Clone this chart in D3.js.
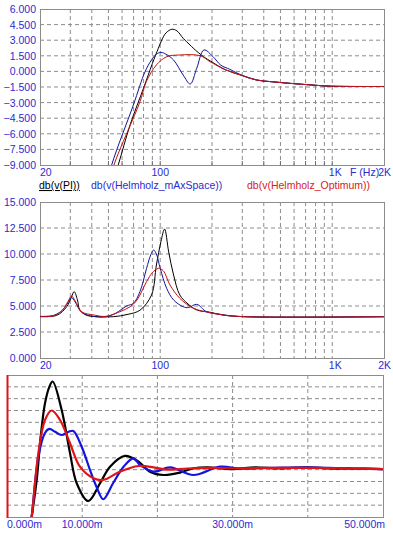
<!DOCTYPE html>
<html>
<head>
<meta charset="utf-8">
<script src="https://cdn.jsdelivr.net/npm/d3@7"></script>
<style>
  body { margin: 0; background: #fff; }
  svg { display: block; font-family: "Liberation Sans", Arial, sans-serif; }
  .grid line { stroke: #8c8c8c; stroke-dasharray: 4,3; }
  .frame { fill: none; stroke: #8c8c8c; }
  .tick-label { fill: #2b2bd0; font-size: 10.5px; }
</style>
</head>
<body>
<div id="chart"></div>
<script>
// ---- data: top panel, gain in dB vs frequency ----
const magPiF = [50, 57, 66.8, 79.9, 90, 97.5, 102, 108, 116.8, 125, 136, 149, 156, 178.6, 200, 240, 300, 364, 450, 570, 750, 975, 2000];
const magPiV = [-12, -9, -5.15, -1.63, 0.75, 2.22, 3.0, 3.7, 4.05, 3.9, 3.18, 2.54, 2.22, 1.41, 0.9, 0.15, -0.4, -0.83, -1.0, -1.15, -1.3, -1.42, -1.45];
const magMaxF = [47, 52.2, 69.8, 81.6, 89, 95, 101, 108, 119.5, 136, 149.5, 163, 179.6, 203, 225, 254, 300, 364, 450, 570, 750, 975, 2000];
const magMaxV = [-12, -9, -3.23, -0.03, 1.1, 1.65, 1.83, 1.65, 1.1, -0.35, -1.21, 0.3, 2.06, 1.41, 0.6, 0.2, -0.4, -0.83, -1.0, -1.15, -1.3, -1.42, -1.45];
const magOptF = [48, 53.8, 76.3, 83, 95, 109, 130, 171, 195, 240, 300, 364, 450, 570, 750, 975, 2000];
const magOptV = [-12, -9, -2.91, -0.99, 0.62, 1.41, 1.58, 1.51, 0.93, 0.15, -0.4, -0.83, -1.0, -1.15, -1.3, -1.42, -1.45];

// ---- data: middle panel ----
const impPiF = [20, 25, 28.6, 30.5, 31.6, 33, 34.1, 37.4, 46.5, 53.4, 65, 76.3, 89, 95, 101, 106, 112, 119.6, 130, 145, 163, 195, 232, 300, 2000];
const impPiV = [4.0, 4.1, 4.93, 5.9, 6.38, 5.6, 4.62, 4.1, 3.97, 3.97, 4.2, 4.6, 6.06, 8.94, 11.2, 12.4, 10.2, 7.98, 6.06, 5.2, 4.62, 4.4, 4.13, 3.98, 3.97];
const impMaxF = [20, 24, 27, 29, 30.5, 32, 34.9, 41, 48, 55, 63.8, 69.9, 76.3, 83.3, 88, 91.5, 95, 100, 109, 119.6, 136, 146, 163, 186, 223, 300, 2000];
const impMaxV = [4.0, 4.1, 4.6, 5.3, 5.8, 5.4, 4.4, 4.0, 3.95, 4.3, 5.0, 5.26, 6.4, 8.62, 9.9, 10.38, 10.0, 8.62, 6.7, 5.58, 4.93, 4.85, 5.16, 4.45, 4.2, 3.98, 3.97];
const impOptF = [20, 23.9, 27, 29, 30.5, 32, 34.9, 41.3, 48, 58.3, 66.8, 73.3, 83.3, 90, 97.5, 104, 114, 130, 156, 195, 232, 300, 2000];
const impOptV = [3.97, 4.05, 4.6, 5.4, 5.96, 5.5, 4.45, 4.13, 4.0, 4.45, 4.93, 5.58, 7.34, 8.2, 8.62, 8.4, 7.02, 5.74, 4.78, 4.36, 4.13, 3.98, 3.97];

// ---- data: bottom panel, time response ----
const stepPiT = [3.0, 3.28, 3.95, 4.48, 5.05, 5.63, 6.07, 7.27, 8.38, 9.27, 10.8, 12.37, 13.7, 15.7, 17.5, 19.0, 20.8, 23.0, 24.7, 26.6, 30, 33, 36, 40, 43, 46, 50];
const stepPiV = [-0.12, 0.0, 0.313, 0.68, 0.96, 1.10, 1.145, 0.905, 0.54, 0.285, 0.135, 0.285, 0.425, 0.516, 0.467, 0.383, 0.355, 0.375, 0.41, 0.42, 0.405, 0.42, 0.41, 0.42, 0.41, 0.41, 0.405];
const stepMaxT = [3.0, 3.28, 4.17, 5.05, 5.63, 6.4, 7.27, 8.2, 8.82, 9.93, 11.04, 11.9, 12.8, 14.1, 15.5, 16.8, 17.7, 19.5, 21.7, 24.8, 28.3, 31, 35, 40, 45, 50];
const stepMaxV = [-0.12, 0.0, 0.51, 0.71, 0.744, 0.72, 0.693, 0.72, 0.727, 0.594, 0.397, 0.256, 0.15, 0.285, 0.425, 0.496, 0.44, 0.383, 0.42, 0.355, 0.425, 0.41, 0.415, 0.42, 0.41, 0.405];
const stepOptT = [3.0, 3.28, 4.17, 5.05, 5.94, 7.05, 8.38, 9.7, 11.5, 12.8, 15.0, 17.5, 19.5, 21.2, 24, 27, 30, 35, 40, 45, 50];
const stepOptV = [-0.12, 0.0, 0.54, 0.82, 0.90, 0.82, 0.623, 0.425, 0.327, 0.313, 0.383, 0.431, 0.42, 0.40, 0.41, 0.415, 0.41, 0.415, 0.415, 0.41, 0.405];

// ---- ticks / labels ----
const freqGrid = [30, 40, 50, 60, 70, 80, 90, 100, 200, 300, 400, 500, 600, 700, 800, 900, 1000];
const freqLabels = [20, 100, 1000, 2000];
const freqText = ["20", "100", "1K", "2K"];
const magTicks = [-9, -7.5, -6, -4.5, -3, -1.5, 0, 1.5, 3, 4.5, 6];
const impTicks = [0, 2.5, 5, 7.5, 10, 12.5, 15];
const timeGrid = [10, 20, 30, 40];
const timeLabels = [0, 10, 30, 50];
const legendNames = ["db(v(PI))", "db(v(Helmholz_mAxSpace))", "db(v(Helmholz_Optimum))"];

const W = 393, H = 535;
const svg = d3.select("#chart").append("svg").attr("width", W).attr("height", H);
svg.append("rect").attr("width", W).attr("height", H).attr("fill", "#fff");

let clipId = 0;

function drawPanel(box, x, y, xGrid, yGrid, series) {
  const g = svg.append("g");
  const grid = g.append("g").attr("class", "grid");
  grid.selectAll(".vx").data(xGrid).enter().append("line")
    .attr("x1", d => x(d)).attr("x2", d => x(d))
    .attr("y1", box.top).attr("y2", box.bottom);
  grid.selectAll(".hy").data(yGrid).enter().append("line")
    .attr("x1", box.left).attr("x2", box.right)
    .attr("y1", d => y(d)).attr("y2", d => y(d));

  g.append("rect").attr("class", "frame")
    .attr("x", box.left + 0.5).attr("y", box.top + 0.5)
    .attr("width", box.right - box.left).attr("height", box.bottom - box.top);

  const id = "clip" + (clipId++);
  svg.append("clipPath").attr("id", id).append("rect")
    .attr("x", box.left).attr("y", box.top)
    .attr("width", box.right - box.left).attr("height", box.bottom - box.top);

  const lines = g.append("g").attr("clip-path", "url(#" + id + ")");
  series.forEach(s => {
    const pts = s.xs.map((v, i) => [x(v), y(s.ys[i])]);
    lines.append("path")
      .attr("d", d3.line().curve(d3.curveCatmullRom.alpha(0.5))(pts))
      .attr("fill", "none")
      .attr("stroke", s.color)
      .attr("stroke-width", s.width)
      .attr("stroke-linejoin", "round");
  });
  return g;
}

function yLabels(g, box, y, ticks) {
  g.selectAll(".yl").data(ticks).enter().append("text")
    .attr("class", "tick-label")
    .attr("x", box.left - 4)
    .attr("y", d => y(d) + 4)
    .attr("text-anchor", "end")
    .text(d => d3.format(".3f")(d));
}

function freqXLabels(g, x, baseline) {
  g.selectAll(".xl").data(freqLabels).enter().append("text")
    .attr("class", "tick-label")
    .attr("x", (d, i) => x(d) + (i === 2 ? 3 : i === 3 ? 7 : 0))
    .attr("y", baseline)
    .attr("text-anchor", (d, i) => i === 0 ? "start" : i === 3 ? "end" : "middle")
    .text((d, i) => freqText[i]);
}

// ---- top panel ----
const topBox = { left: 40, right: 384, top: 9, bottom: 165 };
const xTop = d3.scaleLog().domain([20, 2000]).range([topBox.left, topBox.right]);
const yTop = d3.scaleLinear().domain([-9, 6]).range([topBox.bottom, topBox.top]);
const gTop = drawPanel(topBox, xTop, yTop, freqGrid, magTicks.slice(1, -1), [
  { xs: magPiF, ys: magPiV, color: "#000000", width: 1 },
  { xs: magMaxF, ys: magMaxV, color: "#14149c", width: 1 },
  { xs: magOptF, ys: magOptV, color: "#c41414", width: 1 }
]);
gTop.selectAll(".tk").data(freqGrid).enter().append("line")
  .attr("x1", d => xTop(d)).attr("x2", d => xTop(d))
  .attr("y1", topBox.bottom).attr("y2", topBox.bottom - 4)
  .attr("stroke", "#6c6c6c");
yLabels(gTop, topBox, yTop, magTicks);
freqXLabels(gTop, xTop, 176);
gTop.append("text").attr("class", "tick-label")
  .attr("x", 350).attr("y", 176).text("F (Hz)");

// legend
const legendX = [39, 91, 247];
const legendColors = ["#000000", "#2b2bd0", "#d82020"];
svg.selectAll(".leg").data(legendNames).enter().append("text")
  .attr("x", (d, i) => legendX[i])
  .attr("y", 189)
  .attr("font-size", "10.5px")
  .attr("fill", (d, i) => legendColors[i])
  .attr("text-decoration", (d, i) => i === 0 ? "underline" : null)
  .text(d => d);

// ---- middle panel ----
const midBox = { left: 40, right: 384, top: 202, bottom: 358 };
const xMid = d3.scaleLog().domain([20, 2000]).range([midBox.left, midBox.right]);
const yMid = d3.scaleLinear().domain([0, 15]).range([midBox.bottom, midBox.top]);
const gMid = drawPanel(midBox, xMid, yMid, freqGrid, impTicks.slice(1, -1), [
  { xs: impPiF, ys: impPiV, color: "#000000", width: 1 },
  { xs: impMaxF, ys: impMaxV, color: "#14149c", width: 1 },
  { xs: impOptF, ys: impOptV, color: "#c41414", width: 1 }
]);
yLabels(gMid, midBox, yMid, impTicks);
freqXLabels(gMid, xMid, 369);

// ---- bottom panel ----
const botBox = { left: 7, right: 383, top: 375, bottom: 517 };
const xBot = d3.scaleLinear().domain([0, 50]).range([botBox.left, botBox.right]);
const yBot = d3.scaleLinear().domain([0, 1.2]).range([botBox.bottom, botBox.top]);
const gBot = drawPanel(botBox, xBot, yBot, timeGrid, d3.range(1, 12).map(d => d / 10), [
  { xs: stepPiT, ys: stepPiV, color: "#000000", width: 2.2 },
  { xs: stepMaxT, ys: stepMaxV, color: "#1414e0", width: 2.2 },
  { xs: stepOptT, ys: stepOptV, color: "#e01414", width: 2.2 }
]);
gBot.append("line")
  .attr("x1", botBox.left + 0.5).attr("x2", botBox.left + 0.5)
  .attr("y1", botBox.top).attr("y2", botBox.bottom + 1)
  .attr("stroke", "#e01414").attr("stroke-width", 2);
gBot.selectAll(".xl").data(timeLabels).enter().append("text")
  .attr("class", "tick-label")
  .attr("x", (d, i) => i === 3 ? xBot(d) + 2 : xBot(d))
  .attr("y", 528)
  .attr("text-anchor", (d, i) => i === 0 ? "start" : i === 3 ? "end" : "middle")
  .text(d => d3.format(".3f")(d) + "m");
</script>
</body>
</html>
